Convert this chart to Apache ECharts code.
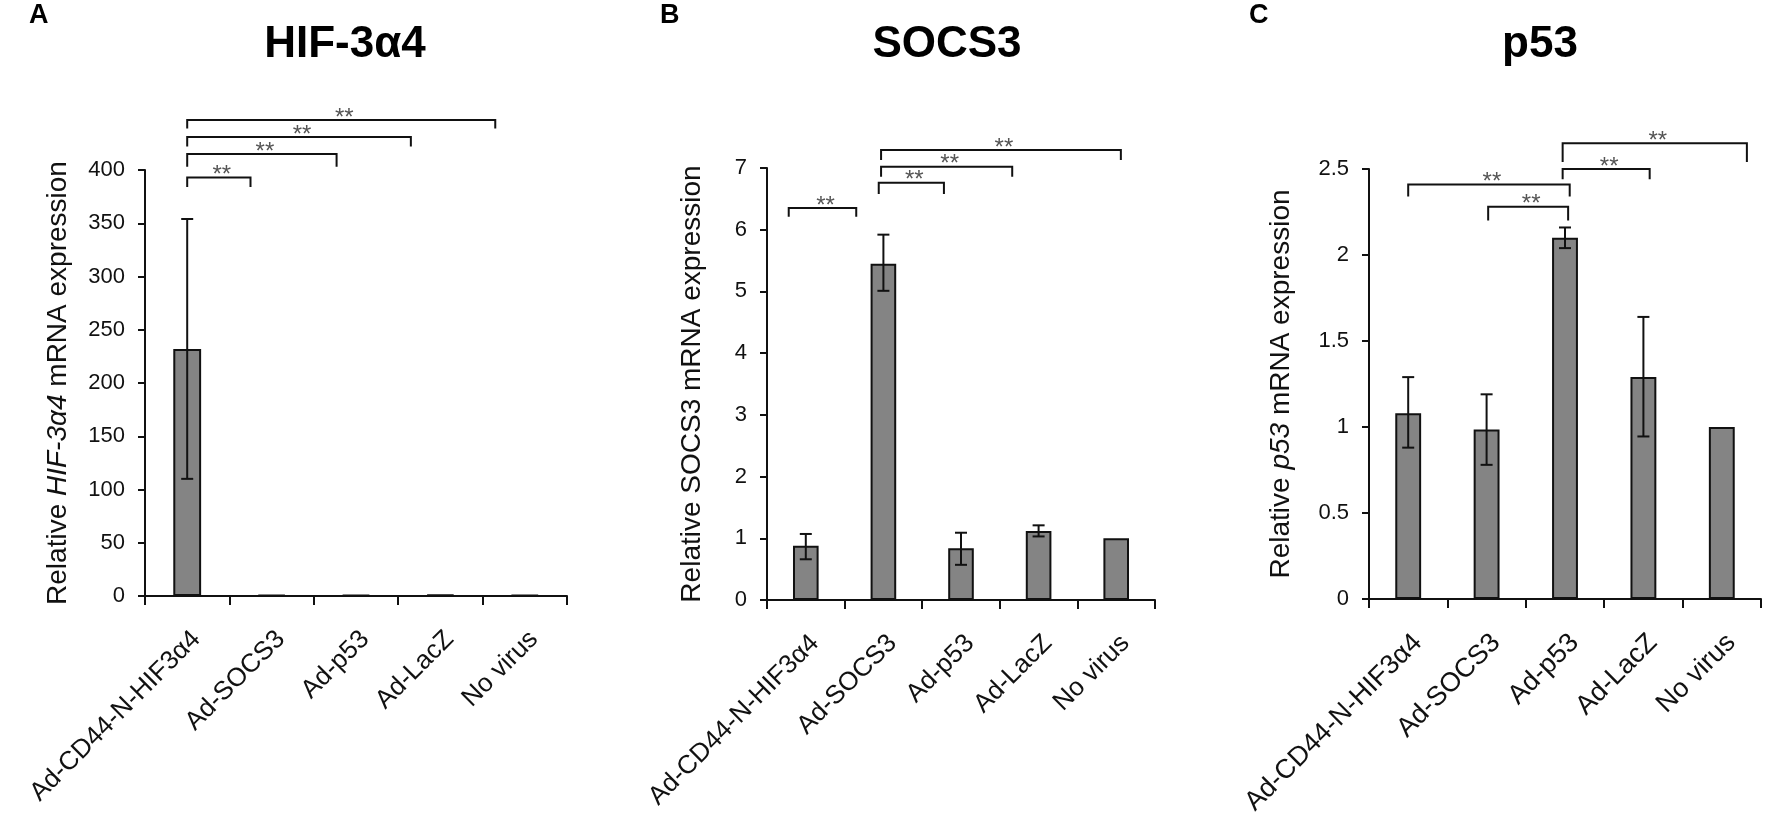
<!DOCTYPE html>
<html>
<head>
<meta charset="utf-8">
<title>HIF-3α4, SOCS3 and p53 mRNA expression</title>
<script src="https://cdn.jsdelivr.net/npm/echarts@6/dist/echarts.min.js"></script>
<style>
  html, body { margin: 0; padding: 0; background: #fff; }
  #main { width: 1773px; height: 837px; }
</style>
</head>
<body>
<div id="main"></div>
<script>
const groups = ["Ad-CD44-N-HIF3α4", "Ad-SOCS3", "Ad-p53", "Ad-LacZ", "No virus"];

// A - HIF-3α4
const hifMean = [232, 1.1, 1.0, 1.2, 1.0];
const hifLow = [110, null, null, null, null];
const hifHigh = [354, null, null, null, null];
// brackets: [from group, to group, top value, leg end value]
const hifBrackets = [[0, 0.75, 393, 384], [0, 1.77, 415, 403], [0, 2.65, 431, 422], [0, 3.65, 447, 439]];

// B - SOCS3
const socsMean = [0.88, 5.45, 0.84, 1.12, 1.0];
const socsLow = [0.66, 5.01, 0.57, 1.03, null];
const socsHigh = [1.07, 5.92, 1.09, 1.21, null];
const socsBrackets = [[-0.22, 0.65, 6.35, 6.21], [0.94, 1.78, 6.76, 6.58], [0.97, 2.66, 7.02, 6.86], [0.97, 4.06, 7.29, 7.13]];

// C - p53
const p53Mean = [1.08, 0.985, 2.10, 1.29, 1.0];
const p53Low = [0.88, 0.78, 2.04, 0.945, null];
const p53High = [1.29, 1.19, 2.16, 1.64, null];
const p53Brackets = [[0, 2.06, 2.41, 2.34], [1.02, 2.04, 2.28, 2.20], [1.97, 3.08, 2.50, 2.44], [1.97, 4.32, 2.65, 2.54]];

const FONT = "'Liberation Sans', Arial, sans-serif";

const panels = [
  { letter: "A", title: "HIF-3α4", name: "Relative {i|HIF-3α4} mRNA expression",
    mean: hifMean, low: hifLow, high: hifHigh, brackets: hifBrackets, max: 400, step: 50,
    grid: { left: 145, top: 170, width: 422, height: 426 }, letterX: 29, titleX: 345, nameGap: 73, labelSize: 26 },
  { letter: "B", title: "SOCS3", name: "Relative SOCS3 mRNA expression",
    mean: socsMean, low: socsLow, high: socsHigh, brackets: socsBrackets, max: 7, step: 1,
    grid: { left: 767, top: 168, width: 388, height: 432 }, letterX: 660, titleX: 947, nameGap: 61, labelSize: 26 },
  { letter: "C", title: "p53", name: "Relative {i|p53} mRNA expression",
    mean: p53Mean, low: p53Low, high: p53High, brackets: p53Brackets, max: 2.5, step: 0.5,
    grid: { left: 1369, top: 169, width: 392, height: 430 }, letterX: 1249, titleX: 1540, nameGap: 74, labelSize: 27 }
];

const ink = "#111";

function errorBarItem(params, api) {
  const i = api.value(0);
  const lo = api.coord([i, api.value(1)]);
  const hi = api.coord([i, api.value(2)]);
  const half = 6;
  const st = { stroke: ink, lineWidth: 2 };
  return {
    type: "group",
    children: [
      { type: "line", shape: { x1: hi[0], y1: hi[1], x2: lo[0], y2: lo[1] }, style: st },
      { type: "line", shape: { x1: hi[0] - half, y1: hi[1], x2: hi[0] + half, y2: hi[1] }, style: st },
      { type: "line", shape: { x1: lo[0] - half, y1: lo[1], x2: lo[0] + half, y2: lo[1] }, style: st }
    ]
  };
}

function bracketRenderer(list) {
  return function (params, api) {
    const b = list[params.dataIndex];
    const band = api.size([1, 0])[0];
    const top = api.coord([0, b[2]]);
    const legY = api.coord([0, b[3]])[1];
    const xa = top[0] + b[0] * band;
    const xb = top[0] + b[1] * band;
    const y = top[1];
    return {
      type: "group",
      children: [
        { type: "polyline", shape: { points: [[xa, legY], [xa, y], [xb, y], [xb, legY]] },
          style: { stroke: ink, lineWidth: 2, fill: null } },
        { type: "text", style: { text: "**", x: (xa + xb) / 2 + 3, y: y - 2,
          align: "center", verticalAlign: "middle", textAlign: "center", textVerticalAlign: "middle",
          font: "24px " + FONT, fill: "#555" } }
      ]
    };
  };
}

const grids = [], xAxes = [], yAxes = [], series = [], graphics = [];

panels.forEach(function (p, k) {
  grids.push(Object.assign({ outerBoundsMode: "none", containLabel: false }, p.grid));

  xAxes.push({
    type: "category", gridIndex: k, data: groups, boundaryGap: true,
    axisLine: { lineStyle: { color: ink, width: 2 } },
    axisTick: { show: true, alignWithLabel: false, length: 9, lineStyle: { color: ink, width: 2 } },
    axisLabel: { interval: 0, rotate: 45, margin: 30, align: "right", verticalAlign: "top",
      color: ink, fontFamily: FONT, fontSize: p.labelSize },
    splitLine: { show: false }
  });

  yAxes.push({
    type: "value", gridIndex: k, min: 0, max: p.max, interval: p.step,
    name: p.name, nameLocation: "middle", nameGap: p.nameGap, nameRotate: 90, nameMoveOverlap: false,
    nameTextStyle: { color: ink, fontFamily: FONT, fontSize: 28,
      rich: { i: { fontStyle: "italic", fontFamily: FONT, fontSize: 28, color: ink } } },
    axisLine: { show: true, lineStyle: { color: ink, width: 2 } },
    axisTick: { show: true, length: 7, lineStyle: { color: ink, width: 2 } },
    axisLabel: { margin: 20, color: ink, fontFamily: FONT, fontSize: 22 },
    splitLine: { show: false }
  });

  series.push({
    type: "bar", xAxisIndex: k, yAxisIndex: k, data: p.mean, barWidth: "33%",
    itemStyle: { color: "#848484", borderColor: ink, borderWidth: 2 },
    emphasis: { disabled: true }, silent: true
  });

  const errData = [];
  p.low.forEach(function (lo, i) {
    if (lo != null) errData.push([i, lo, p.high[i]]);
  });
  series.push({
    type: "custom", xAxisIndex: k, yAxisIndex: k, data: errData,
    encode: { x: 0, y: [1, 2] }, renderItem: errorBarItem, z: 5, silent: true
  });

  series.push({
    type: "custom", xAxisIndex: k, yAxisIndex: k, clip: false,
    data: p.brackets.map(function (b) { return [0, b[2]]; }),
    encode: { x: 0, y: 1 }, renderItem: bracketRenderer(p.brackets), z: 5, silent: true
  });

  graphics.push({ type: "text", x: p.letterX, y: 16,
    style: { text: p.letter, font: "bold 27px " + FONT, fill: "#000",
      textAlign: "left", textVerticalAlign: "middle" } });
  graphics.push({ type: "text", x: p.titleX, y: 45,
    style: { text: p.title, font: "bold 44px " + FONT, fill: "#000",
      textAlign: "center", textVerticalAlign: "middle" } });
});

const chart = echarts.init(document.getElementById("main"));
chart.setOption({
  backgroundColor: "#fff",
  animation: false,
  grid: grids,
  xAxis: xAxes,
  yAxis: yAxes,
  series: series,
  graphic: graphics
});
</script>
</body>
</html>
